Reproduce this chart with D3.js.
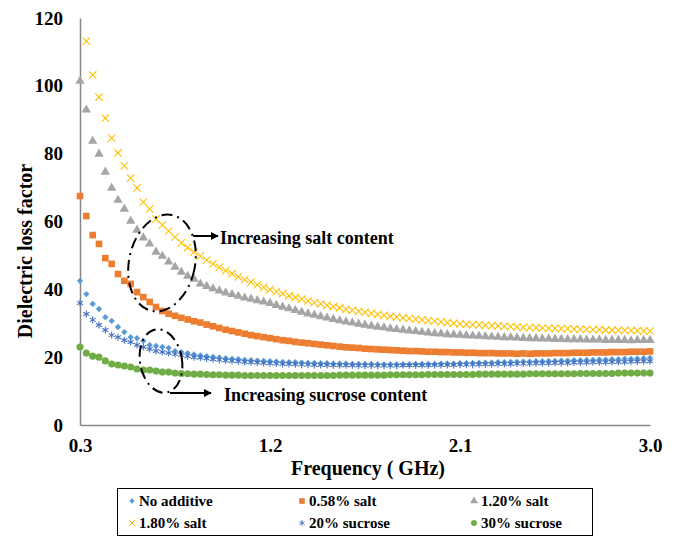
<!DOCTYPE html>
<html>
<head>
<meta charset="utf-8">
<script src="https://cdn.jsdelivr.net/npm/d3@7"></script>
<style>
  body { margin: 0; background: #fff; }
  text { font-family: "Liberation Serif", "Times New Roman", serif; font-weight: bold; fill: #000; }
</style>
</head>
<body>
<svg id="chart" width="678" height="536"></svg>
<script>
// frequency sweep (GHz)
const freq = [0.30,0.33,0.36,0.39,0.42,0.45,0.48,0.51,0.54,0.57,0.60,0.63,0.66,0.69,0.72,0.75,0.78,0.81,0.84,0.87,
  0.90,0.93,0.96,0.99,1.02,1.05,1.08,1.11,1.14,1.17,1.20,1.23,1.26,1.29,1.32,1.35,1.38,1.41,1.44,1.47,
  1.50,1.53,1.56,1.59,1.62,1.65,1.68,1.71,1.74,1.77,1.80,1.83,1.86,1.89,1.92,1.95,1.98,2.01,2.04,2.07,
  2.10,2.13,2.16,2.19,2.22,2.25,2.28,2.31,2.34,2.37,2.40,2.43,2.46,2.49,2.52,2.55,2.58,2.61,2.64,2.67,
  2.70,2.73,2.76,2.79,2.82,2.85,2.88,2.91,2.94,2.97,3.00];

const noAdditive = [42.5,38.6,35.7,34.2,31.8,30.7,28.9,27.4,25.9,25.6,
  24.8,23.6,23.3,23.0,22.7,21.8,21.5,21.2,20.8,20.5,
  20.3,20.1,19.9,19.7,19.5,19.4,19.2,19.1,19.0,18.9,
  18.8,18.7,18.6,18.5,18.5,18.4,18.3,18.3,18.2,18.2,
  18.1,18.1,18.1,18.0,18.0,18.0,18.0,17.9,17.9,17.9,
  17.9,17.9,17.9,18.0,18.0,18.0,18.0,18.1,18.1,18.1,
  18.2,18.2,18.3,18.3,18.4,18.4,18.5,18.5,18.6,18.6,
  18.7,18.7,18.8,18.8,18.9,18.9,19.0,19.0,19.1,19.1,
  19.2,19.2,19.3,19.3,19.4,19.4,19.5,19.5,19.6,19.7,19.8];

const salt058 = [67.5,61.6,56.0,53.4,49.2,47.5,44.5,42.5,41.6,39.2,
  37.7,36.3,34.8,33.6,32.8,32.2,31.6,31.1,30.6,30.2,
  29.6,29.1,28.6,28.1,27.7,27.3,26.9,26.5,26.2,25.9,
  25.6,25.3,25.0,24.8,24.5,24.3,24.1,23.9,23.7,23.5,
  23.3,23.1,22.9,22.8,22.7,22.5,22.4,22.3,22.2,22.1,
  22.0,21.9,21.8,21.8,21.7,21.6,21.6,21.5,21.5,21.4,
  21.4,21.3,21.3,21.2,21.2,21.2,21.1,21.1,21.1,21.0,
  21.1,21.0,21.1,21.1,21.1,21.2,21.2,21.2,21.3,21.3,
  21.3,21.4,21.4,21.4,21.5,21.5,21.5,21.6,21.6,21.6,21.7];

const salt120 = [101.4,92.9,83.7,79.9,74.6,69.9,66.3,63.7,60.1,57.5,
  55.2,53.4,51.0,49.8,48.1,46.6,45.1,43.9,43.0,41.6,
  40.9,40.2,39.6,39.0,38.5,38.0,37.5,37.1,36.7,36.3,
  35.9,35.3,34.8,34.3,33.8,33.3,32.8,32.4,32.0,31.6,
  31.2,30.8,30.4,30.1,29.8,29.5,29.2,28.9,28.7,28.4,
  28.2,28.0,27.8,27.6,27.4,27.2,27.0,26.9,26.7,26.6,
  26.5,26.4,26.3,26.2,26.1,26.0,25.9,25.8,25.8,25.7,
  25.6,25.5,25.5,25.4,25.4,25.3,25.3,25.2,25.2,25.2,
  25.1,25.1,25.1,25.0,25.0,25.0,25.0,24.9,25.0,25.0,25.0];

// first point is above the 120 axis maximum
const salt180 = [124.0,113.2,103.2,96.7,90.5,84.6,80.2,76.4,72.8,69.9,
  65.7,63.7,60.7,59.0,57.2,55.4,53.7,52.3,51.0,49.8,
  48.6,47.5,46.5,45.5,44.6,43.7,42.9,42.1,41.3,40.6,
  39.9,39.3,38.7,38.1,37.6,37.1,36.6,36.1,35.7,35.3,
  34.9,34.5,34.1,33.8,33.5,33.2,32.9,32.6,32.3,32.0,
  31.8,31.6,31.4,31.2,31.0,30.8,30.6,30.4,30.2,30.0,
  29.8,29.7,29.6,29.5,29.4,29.3,29.2,29.1,29.0,28.9,
  28.8,28.7,28.7,28.6,28.5,28.5,28.4,28.4,28.3,28.2,
  28.2,28.1,28.1,28.0,28.0,27.9,27.9,27.8,27.8,27.7,27.7];

const sucrose20 = [36.0,32.7,31.0,29.5,28.0,26.5,25.9,25.0,24.5,23.6,
  23.0,22.4,21.8,21.5,21.2,20.9,20.6,20.3,20.0,19.8,
  19.6,19.4,19.2,19.0,18.9,18.8,18.6,18.5,18.4,18.3,
  18.2,18.1,18.0,18.0,17.9,17.8,17.8,17.7,17.7,17.7,
  17.6,17.6,17.6,17.6,17.5,17.5,17.5,17.5,17.5,17.5,
  17.5,17.6,17.6,17.6,17.6,17.6,17.7,17.7,17.7,17.7,
  17.8,17.8,17.8,17.9,17.9,17.9,18.0,18.0,18.0,18.1,
  18.1,18.1,18.2,18.2,18.2,18.3,18.3,18.3,18.4,18.4,
  18.4,18.5,18.5,18.5,18.6,18.6,18.6,18.7,18.7,18.8,18.8];

const sucrose30 = [23.0,21.2,20.3,20.0,18.9,18.0,17.7,17.4,17.1,16.5,
  16.2,16.2,15.9,15.6,15.6,15.3,15.2,15.1,15.0,15.0,
  14.9,14.8,14.8,14.7,14.7,14.7,14.6,14.6,14.6,14.6,
  14.6,14.6,14.6,14.6,14.6,14.6,14.6,14.6,14.6,14.6,
  14.6,14.7,14.7,14.7,14.7,14.7,14.7,14.7,14.7,14.8,
  14.8,14.8,14.8,14.8,14.8,14.9,14.9,14.9,14.9,14.9,
  14.9,14.9,14.9,15.0,15.0,15.0,15.0,15.0,15.0,15.0,
  15.0,15.1,15.1,15.1,15.1,15.1,15.1,15.1,15.1,15.2,
  15.2,15.2,15.2,15.2,15.2,15.3,15.3,15.3,15.3,15.3,15.3];

const seriesNames = ["No additive", "0.58% salt", "1.20% salt", "1.80% salt", "20% sucrose", "30% sucrose"];
const seriesValues = [noAdditive, salt058, salt120, salt180, sucrose20, sucrose30];
const seriesColors = ["#5B9BD5", "#ED7D31", "#A5A5A5", "#FFC000", "#4472C4", "#70AD47"];
const xTicks = [0.3, 1.2, 2.1, 3.0];
const yTicks = [0, 20, 40, 60, 80, 100, 120];

const svg = d3.select("#chart");

const x = d3.scaleLinear().domain([0.3, 3.0]).range([80, 650]);
const y = d3.scaleLinear().domain([0, 120]).range([425, 18]);

// marker shapes, excel style
const markers = [
  {type: d3.symbolSquare, size: 20, rotate: 45, fill: true},
  {type: d3.symbolSquare, size: 44, rotate: 0, fill: true},
  {type: d3.symbolTriangle, size: 38, rotate: 0, fill: true},
  {type: d3.symbolTimes, size: 38, rotate: 0, fill: false},
  {type: d3.symbolAsterisk, size: 34, rotate: 0, fill: false},
  {type: d3.symbolCircle, size: 40, rotate: 0, fill: true}
];

function drawMarker(sel, i) {
  const m = markers[i];
  sel.attr("d", d3.symbol().type(m.type).size(m.size)())
    .attr("fill", m.fill ? seriesColors[i] : "none")
    .attr("stroke", m.fill ? "none" : seriesColors[i])
    .attr("stroke-width", m.fill ? 0 : 1.1);
}

// axes
const xAxis = svg.append("g")
    .attr("transform", "translate(0,425)")
    .call(d3.axisBottom(x).tickValues(xTicks).tickSize(0).tickSizeOuter(0).tickPadding(14).tickFormat(d3.format(".1f")));
const yAxis = svg.append("g")
    .attr("transform", "translate(80,0)")
    .call(d3.axisLeft(y).tickValues(yTicks).tickSize(0).tickSizeOuter(0).tickPadding(17));

[xAxis, yAxis].forEach(a => {
  a.select(".domain").attr("stroke", "#868686").attr("stroke-width", 1.5);
  a.selectAll("text")
    .style("font-family", "'Liberation Serif', serif")
    .style("font-weight", "bold")
    .style("font-size", "19px")
    .attr("fill", "#000");
});

// series
seriesValues.forEach((vals, i) => {
  const pts = freq.map((f, j) => ({f: f, v: vals[j]})).filter(d => d.v <= 120);
  svg.append("g")
    .selectAll("path")
    .data(pts)
    .join("path")
      .call(drawMarker, i)
      .attr("transform", d => `translate(${x(d.f)},${y(d.v)}) rotate(${markers[i].rotate})`);
});

// axis titles
svg.append("text")
    .attr("x", 368).attr("y", 475)
    .attr("text-anchor", "middle")
    .style("font-size", "20px")
    .text("Frequency ( GHz)");

svg.append("text")
    .attr("transform", "translate(32,251) rotate(-90)")
    .attr("text-anchor", "middle")
    .style("font-size", "20px")
    .text("Dielectric loss factor");

// annotations
svg.append("defs").append("marker")
    .attr("id", "arrow")
    .attr("viewBox", "0 0 10 10")
    .attr("refX", 9).attr("refY", 5)
    .attr("markerWidth", 4).attr("markerHeight", 4)
    .attr("orient", "auto")
  .append("path")
    .attr("d", "M0,0 L10,5 L0,10 z")
    .attr("fill", "#000");

const notes = [
  {cx: 162, cy: 263, rx: 33, ry: 49, rot: 12, ax1: 193, ax2: 218, ay: 236, tx: 220, ty: 244, label: "Increasing salt content"},
  {cx: 161, cy: 361, rx: 21, ry: 32, rot: -10, ax1: 170, ax2: 211, ay: 393, tx: 224, ty: 401, label: "Increasing sucrose content"}
];

notes.forEach(n => {
  svg.append("ellipse")
      .attr("cx", n.cx).attr("cy", n.cy)
      .attr("rx", n.rx).attr("ry", n.ry)
      .attr("transform", `rotate(${n.rot},${n.cx},${n.cy})`)
      .attr("fill", "none")
      .attr("stroke", "#000")
      .attr("stroke-width", 2)
      .attr("stroke-dasharray", "11,5,2,5");
  svg.append("line")
      .attr("x1", n.ax1).attr("x2", n.ax2)
      .attr("y1", n.ay).attr("y2", n.ay)
      .attr("stroke", "#000")
      .attr("stroke-width", 2)
      .attr("marker-end", "url(#arrow)");
  svg.append("text")
      .attr("x", n.tx).attr("y", n.ty)
      .style("font-size", "18px")
      .text(n.label);
});

// legend
svg.append("rect")
    .attr("x", 117.5).attr("y", 488.5)
    .attr("width", 475).attr("height", 47)
    .attr("fill", "#fff")
    .attr("stroke", "#000")
    .attr("stroke-width", 1);

const legendX = [132, 302, 474];
const legendY = [501, 523];

seriesNames.forEach((name, i) => {
  const lx = legendX[i % 3], ly = legendY[Math.floor(i / 3)];
  svg.append("path")
      .call(drawMarker, i)
      .attr("transform", `translate(${lx},${ly}) rotate(${markers[i].rotate}) scale(0.85)`);
  svg.append("text")
      .attr("x", lx + 7).attr("y", ly + 5)
      .style("font-size", "15px")
      .text(name);
});
</script>
</body>
</html>
